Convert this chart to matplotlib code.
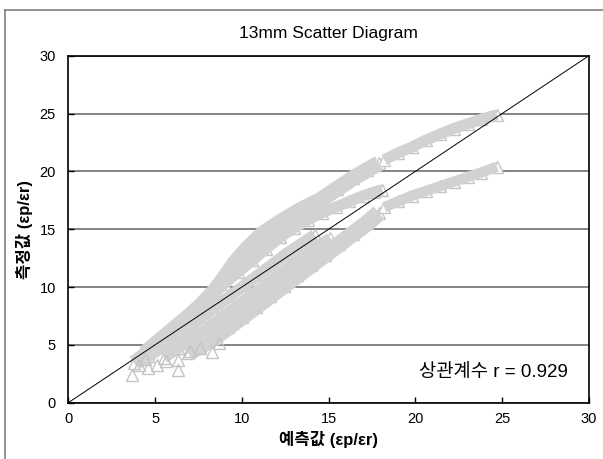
import matplotlib as mpl
import matplotlib.pyplot as plt
import numpy as np

mpl.rcParams['font.family'] = ['Liberation Sans', 'Noto Sans CJK KR', 'DejaVu Sans']

# measured vs predicted strain ratio, grouped by test run
a1_x = [3.8, 4.6, 5.4, 6.2, 7.0, 7.7, 8.4, 9.0, 9.6, 10.3, 11.2, 12.2, 13.3, 14.5, 15.5, 16.4, 17.2, 17.9]
a1_y = [3.4, 4.3, 5.3, 6.4, 7.5, 8.5, 9.6, 10.8, 12.1, 13.3, 14.6, 15.6, 16.6, 17.5, 18.5, 19.4, 20.1, 20.7]
a2_x = [18.2, 19.0, 19.8, 20.6, 21.4, 22.2, 23.0, 23.8, 24.7]
a2_y = [21.0, 21.6, 22.1, 22.7, 23.2, 23.7, 24.1, 24.5, 24.9]

b_x = [4.3, 5.0, 5.8, 6.6, 7.4, 8.2, 9.0, 9.8, 10.6, 11.4, 12.2, 13.0, 13.8, 14.6, 15.4, 16.2, 17.0, 17.6, 18.1]
b_y = [4.4, 5.3, 6.3, 7.3, 8.3, 9.3, 10.3, 11.3, 12.3, 13.3, 14.3, 15.1, 15.8, 16.4, 16.9, 17.4, 17.9, 18.2, 18.4]

c1_x = [6.9, 7.6, 8.4, 9.2, 10.0, 10.8, 11.6, 12.4, 13.2, 14.0, 14.8, 15.6, 16.4, 17.2, 17.9]
c1_y = [4.3, 4.9, 5.6, 6.5, 7.4, 8.3, 9.2, 10.1, 11.0, 11.9, 12.8, 13.7, 14.6, 15.5, 16.4]
c2_x = [18.2, 19.0, 19.8, 20.6, 21.4, 22.2, 23.0, 23.8, 24.7]
c2_y = [16.9, 17.4, 17.9, 18.3, 18.7, 19.1, 19.5, 19.9, 20.4]

d_x = [4.6, 5.4, 6.2, 7.0, 7.8, 8.6, 9.4, 10.2, 11.0, 11.8, 12.6, 13.4, 14.2]
d_y = [4.0, 4.8, 5.7, 6.6, 7.5, 8.4, 9.3, 10.2, 11.1, 12.0, 12.9, 13.7, 14.5]

e_x = [5.5, 6.3, 7.1, 7.9, 8.7, 9.5, 10.3, 11.1, 11.9, 12.7, 13.5, 14.3, 15.1]
e_y = [3.9, 4.7, 5.5, 6.3, 7.2, 8.1, 9.0, 9.9, 10.8, 11.7, 12.6, 13.4, 14.2]

# first readings of each run, scattered at low strain
start_x = [3.65, 4.1, 4.6, 5.1, 6.3, 6.3, 7.0, 7.6, 8.7, 8.3, 5.6, 4.4]
start_y = [2.4, 3.3, 3.0, 3.3, 2.8, 3.7, 4.5, 4.7, 5.2, 4.4, 3.6, 3.8]

r_value = 0.929

band_color = '#d2d2d2'
mark_color = '#c4c4c4'

fig = plt.figure(figsize=(6.03, 4.59), dpi=100)
ax = fig.add_axes([0.1133, 0.1227, 0.8635, 0.756])

series = [(a1_x, a1_y, 11.5), (a2_x, a2_y, 8),
          (b_x, b_y, 8),
          (c1_x, c1_y, 12), (c2_x, c2_y, 7.5),
          (d_x, d_y, 8.5), (e_x, e_y, 8.5)]
# markers first so the dense bands cover them and only the edges show
for sx, sy, w in series:
    ax.plot(sx, sy, '^', ms=9, mfc='white', mec=mark_color, mew=1, zorder=1.8)
for sx, sy, w in series:
    ax.plot(sx, sy, '-', color=band_color, lw=w, solid_capstyle='butt', zorder=2)

ax.plot(start_x, start_y, '^', ms=8, mfc='none', mec=mark_color, mew=1, zorder=2)

# 1:1 line
ax.plot([0, 30], [0, 30], color='black', lw=0.7, zorder=3)

ax.set_xlim(0, 30)
ax.set_ylim(0, 30)
ax.set_xticks(np.arange(0, 31, 5))
ax.set_yticks(np.arange(0, 31, 5))
ax.tick_params(direction='in', length=4, width=1, labelsize=10.5, colors='black')
ax.tick_params(axis='x', pad=7)
ax.tick_params(axis='y', pad=9)

ax.yaxis.grid(True, color='#707070', lw=1.2)
ax.set_axisbelow(True)
for s in ax.spines.values():
    s.set_linewidth(1.2)

ax.set_title('13mm Scatter Diagram', fontsize=12.5, pad=13)
ax.set_xlabel('예측값 (εp/εr)', fontsize=12, fontweight='bold', labelpad=3)
ax.set_ylabel('측정값 (εp/εr)', fontsize=12, fontweight='bold', labelpad=5)

ax.text(24.5, 2.65, f'상관계수 r = {r_value}', fontsize=13.5, ha='center', va='center')

# outer frame, cut off at right and bottom
fig.add_artist(plt.Line2D([4.5 / 603, 4.5 / 603], [0, 1 - 9.5 / 459], color='#808080', lw=1.2))
fig.add_artist(plt.Line2D([4.5 / 603, 1], [1 - 9.5 / 459, 1 - 9.5 / 459], color='#808080', lw=1.2))

fig.savefig('out.png', dpi=100)
